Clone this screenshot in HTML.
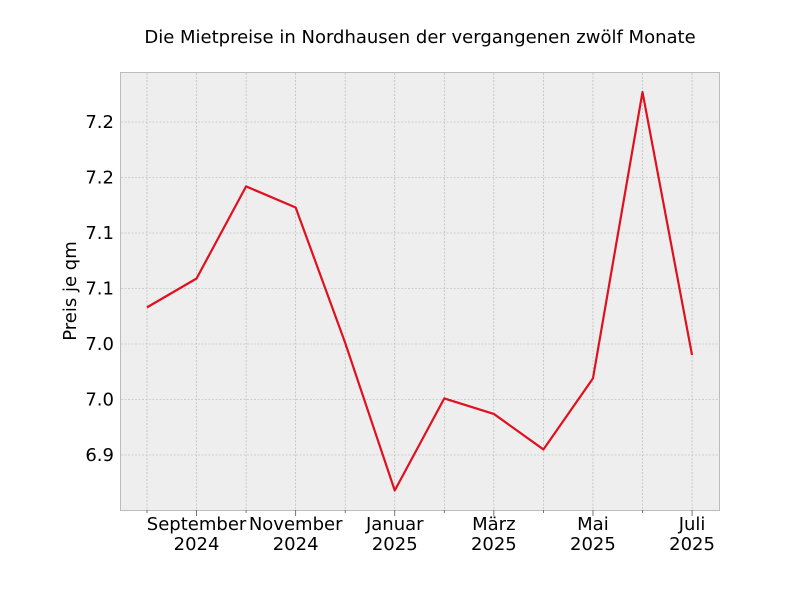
<!DOCTYPE html>
<html><head><meta charset="utf-8">
<style>
body{margin:0;background:#fff;}
svg{display:block;font-family:"DejaVu Sans","Liberation Sans",sans-serif;}
</style></head>
<body>
<svg id="chart" width="800" height="600">
<rect x="0" y="0" width="800" height="600" fill="#fff"/>
<text x="420" y="43" text-anchor="middle" font-size="18" fill="#000">Die Mietpreise in Nordhausen der vergangenen zwölf Monate</text>
<rect x="120.5" y="72.5" width="599" height="438" fill="#eeeeee" stroke="#bcbcbc"/>
<g id="grid"></g>
<g id="ticks"></g>
<path id="line" fill="none" stroke="#e0101f" stroke-width="2.2" stroke-linejoin="round"/>
<text transform="translate(76,291) rotate(-90)" text-anchor="middle" font-size="18">Preis je qm</text>
</svg>
<script>
const months = ["Aug 2024","Sep 2024","Okt 2024","Nov 2024","Dez 2024","Jan 2025","Feb 2025","Mär 2025","Apr 2025","Mai 2025","Jun 2025","Jul 2025"];
const prices = [7.033,7.059,7.142,7.123,7.001,6.868,6.951,6.937,6.905,6.969,7.227,6.990];
const yTicks = [6.9,6.95,7.0,7.05,7.1,7.15,7.2];
const yTickLabels = ["6.9","7.0","7.0","7.1","7.1","7.2","7.2"];
const xLabelIdx = [1,3,5,7,9,11];
const xLabels = [["September","2024"],["November","2024"],["Januar","2025"],["März","2025"],["Mai","2025"],["Juli","2025"]];

const NS="http://www.w3.org/2000/svg";
const xs = i => 147 + i*49.55;
const ys = v => 455 - (v-6.9)/0.05*55.5;
const grid=document.getElementById('grid'), ticks=document.getElementById('ticks');
function mk(tag,attrs,parent){const e=document.createElementNS(NS,tag);for(const k in attrs)e.setAttribute(k,attrs[k]);parent.appendChild(e);return e;}
months.forEach((m,i)=>{
  const g=mk('line',{x1:xs(i),x2:xs(i),y1:73,y2:510,stroke:'#b2b2b2','stroke-width':0.6,'stroke-dasharray':'2,1.5'},grid);
  
  
  const t=mk('line',{x1:xs(i),x2:xs(i),y1:510,y2:xLabelIdx.includes(i)?516:513,stroke:'#555','stroke-width':0.8},ticks);
  
  
});
xLabelIdx.forEach((idx,k)=>{
  const t=mk('text',{x:xs(idx),y:530,'text-anchor':'middle','font-size':18},ticks);
  
  
  mk('tspan',{x:xs(idx),dy:0},t).textContent=xLabels[k][0];
  mk('tspan',{x:xs(idx),dy:20},t).textContent=xLabels[k][1];
});
yTicks.forEach((v,k)=>{
  const g=mk('line',{x1:121,x2:719,y1:ys(v),y2:ys(v),stroke:'#b2b2b2','stroke-width':0.6,'stroke-dasharray':'2,1.5'},grid);
  
  
  const t=mk('text',{x:114,y:ys(v)+6,'text-anchor':'end','font-size':18},ticks);
  t.textContent=yTickLabels[k];
  
  
});
const line=document.getElementById('line');
line.setAttribute('d',prices.map((p,i)=>(i?'L':'M')+xs(i)+','+ys(p)).join(' '));


</script>
</body></html>
